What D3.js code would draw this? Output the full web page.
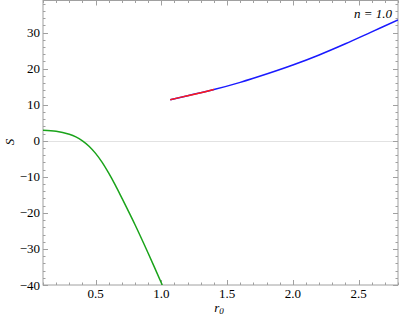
<!DOCTYPE html>
<html>
<head>
<meta charset="utf-8">
<script src="https://cdn.jsdelivr.net/npm/d3@7"></script>
<style>
  body { margin: 0; background: #fff; }
  svg text { font-family: "Liberation Serif", "Times New Roman", "DejaVu Serif", serif; }
</style>
</head>
<body>
<div id="chart"></div>
<script>
// Green branch
var greenR = [0.1, 0.2, 0.3, 0.35, 0.4, 0.45, 0.5, 0.55, 0.6, 0.65, 0.7, 0.8, 0.9, 1.007];
var greenS = [2.95, 2.65, 1.8, 1.1, 0.0, -1.5, -3.5, -6.0, -9.0, -12.3, -15.9, -23.3, -31.2, -40];
// Blue branch
var blueR = [1.068, 1.2, 1.4, 1.6, 1.8, 2.0, 2.2, 2.4, 2.6, 2.8];
var blueS = [11.4, 12.5, 14.2, 16.2, 18.5, 21.0, 23.8, 26.9, 30.2, 33.5];
// Red segment
var redR = [1.068, 1.2, 1.3, 1.4];
var redS = [11.4, 12.5, 13.3, 14.2];

var xTicks = [0.5, 1.0, 1.5, 2.0, 2.5];
var yTicks = [-40, -30, -20, -10, 0, 10, 20, 30];
var label = "n = 1.0";

var W = 399, H = 318;
var pLeft = 43, pRight = 398, pTop = 0.5, pBottom = 285;

var svg = d3.select('#chart').append('svg')
  .attr('width', W).attr('height', H);

var x = d3.scaleLinear().domain([0.1, 2.8]).range([pLeft, pRight]);
var y = d3.scaleLinear().domain([-40, 38.9]).range([pBottom, pTop]);

// zero line
svg.append('line')
  .attr('x1', pLeft).attr('x2', pRight)
  .attr('y1', Math.round(y(0)) + 0.5).attr('y2', Math.round(y(0)) + 0.5)
  .style('stroke', '#e2e2e2').style('stroke-width', 1);

var frameCol = '#a0a0a0';

// frame ticks
var g = svg.append('g');
d3.range(0.1, 2.801, 0.1).forEach(function(v){
  var major = Math.abs(v * 2 - Math.round(v * 2)) < 1e-6;
  var len = major ? 5 : 2.5;
  var xx = Math.round(x(v)) + 0.5;
  g.append('line').attr('x1', xx).attr('x2', xx).attr('y1', pBottom).attr('y2', pBottom - len)
    .style('stroke', frameCol);
  g.append('line').attr('x1', xx).attr('x2', xx).attr('y1', pTop).attr('y2', pTop + len)
    .style('stroke', frameCol);
});
d3.range(-40, 38.9, 2).forEach(function(v){
  var major = v % 10 === 0;
  var len = major ? 5 : 2.5;
  var yy = Math.round(y(v)) + 0.5;
  g.append('line').attr('x1', pLeft).attr('x2', pLeft + len).attr('y1', yy).attr('y2', yy)
    .style('stroke', frameCol);
  g.append('line').attr('x1', pRight).attr('x2', pRight - len).attr('y1', yy).attr('y2', yy)
    .style('stroke', frameCol);
});

// frame
svg.append('rect')
  .attr('x', pLeft).attr('y', pTop)
  .attr('width', pRight - pLeft).attr('height', pBottom - pTop)
  .style('fill', 'none').style('stroke', frameCol).style('stroke-width', 1);

// tick labels
svg.selectAll('.xl').data(xTicks).enter().append('text')
  .attr('x', function(d){ return x(d); })
  .attr('y', 298)
  .attr('text-anchor', 'middle')
  .style('font-size', '13px')
  .text(function(d){ return d.toFixed(1); });

svg.selectAll('.yl').data(yTicks).enter().append('text')
  .attr('x', 40)
  .attr('y', function(d){ return y(d) + 4.5; })
  .attr('text-anchor', 'end')
  .style('font-size', '13px')
  .text(function(d){ return d < 0 ? '\u2212' + Math.abs(d) : d; });

// axis labels
var xl = svg.append('text')
  .attr('x', 219).attr('y', 312)
  .attr('text-anchor', 'middle')
  .style('font-size', '13px').style('font-style', 'italic');
xl.append('tspan').text('r');
xl.append('tspan').attr('dy', 2).style('font-size', '9px').text('0');

svg.append('text')
  .attr('transform', 'translate(14,142) rotate(-90)')
  .attr('text-anchor', 'middle')
  .style('font-size', '13px').style('font-style', 'italic')
  .text('S');

// curves
var line = d3.line()
  .x(function(d){ return x(d[0]); })
  .y(function(d){ return y(d[1]); })
  .curve(d3.curveCatmullRom.alpha(0.5));

svg.append('clipPath').attr('id', 'clip')
  .append('rect').attr('x', pLeft).attr('y', pTop)
  .attr('width', pRight - pLeft).attr('height', pBottom - pTop);

function draw(rs, ss, col){
  svg.append('path')
    .datum(d3.zip(rs, ss))
    .attr('d', line)
    .attr('clip-path', 'url(#clip)')
    .style('fill', 'none')
    .style('stroke', col)
    .style('stroke-width', 1.5);
}
draw(greenR, greenS, '#1aa31a');
draw(blueR, blueS, '#1a1aff');
draw(redR, redS, '#ff1a1a');

svg.append('text')
  .attr('x', 392).attr('y', 18)
  .attr('text-anchor', 'end')
  .style('font-size', '13px').style('font-style', 'italic')
  .text(label);
</script>
</body>
</html>
